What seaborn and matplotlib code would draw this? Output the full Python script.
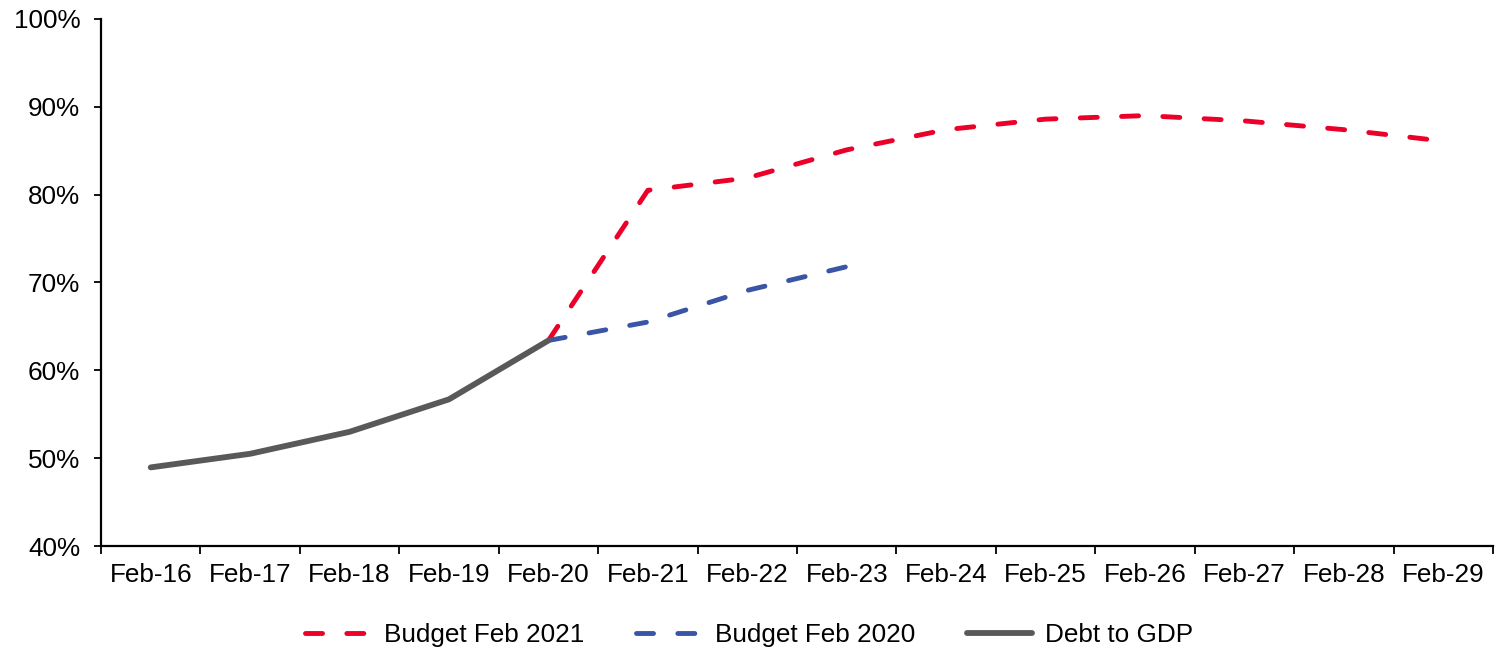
import numpy as np
import pandas as pd
import matplotlib
matplotlib.use("Agg")
import matplotlib.pyplot as plt
from matplotlib.ticker import FuncFormatter, FixedLocator
import seaborn as sns

# Fiscal years on the horizontal axis
periods = ["Feb-16", "Feb-17", "Feb-18", "Feb-19", "Feb-20", "Feb-21", "Feb-22",
           "Feb-23", "Feb-24", "Feb-25", "Feb-26", "Feb-27", "Feb-28", "Feb-29"]

# Gross debt as a share of GDP (%)
debt_periods = ["Feb-16", "Feb-17", "Feb-18", "Feb-19", "Feb-20"]
debt_values = [48.95, 50.5, 53.0, 56.7, 63.4]

budget2020_periods = ["Feb-20", "Feb-21", "Feb-22", "Feb-23"]
budget2020_values = [63.4, 65.5, 69.1, 71.8]

budget2021_periods = ["Feb-20", "Feb-21", "Feb-22", "Feb-23", "Feb-24", "Feb-25",
                      "Feb-26", "Feb-27", "Feb-28", "Feb-29"]
budget2021_values = [63.4, 80.5, 81.9, 85.1, 87.4, 88.6, 89.0, 88.4, 87.4, 86.1]

y_ticks = [40, 50, 60, 70, 80, 90, 100]

RED = "#EC0029"
BLUE = "#3A55A5"
GREY = "#595959"


def frame(name, labels, values):
    return pd.DataFrame({
        "series": name,
        "period": labels,
        "pos": [periods.index(p) for p in labels],
        "value": values,
    })


df21 = frame("Budget Feb 2021", budget2021_periods, budget2021_values)
df20 = frame("Budget Feb 2020", budget2020_periods, budget2020_values)
dfdebt = frame("Debt to GDP", debt_periods, debt_values)

sns.set_theme(style="white")
plt.rcParams["font.family"] = ["Liberation Sans", "DejaVu Sans"]
plt.rcParams["text.color"] = "black"

fig = plt.figure(figsize=(14.99, 6.51), dpi=100)
ax = fig.add_axes([101 / 1499, 1 - 546 / 651, (1493 - 101) / 1499, (546 - 19) / 651])

dash_lw = 3.5
dash_style = (0, (3.5, 5.0))

sns.lineplot(data=df21, x="pos", y="value", ax=ax, color=RED, linewidth=dash_lw,
             linestyle=dash_style, dash_capstyle="round", label="Budget Feb 2021",
             legend=False, sort=False)
sns.lineplot(data=df20, x="pos", y="value", ax=ax, color=BLUE, linewidth=dash_lw,
             linestyle=dash_style, dash_capstyle="round", label="Budget Feb 2020",
             legend=False, sort=False)
sns.lineplot(data=dfdebt, x="pos", y="value", ax=ax, color=GREY, linewidth=4.2,
             solid_capstyle="round", solid_joinstyle="round", label="Debt to GDP",
             legend=False, sort=False)

n = len(periods)
ax.set_xlim(-0.5, n - 0.5)
ax.set_ylim(40, 100)

# Category labels sit between tick marks placed on category boundaries
ax.xaxis.set_major_locator(FixedLocator(np.arange(-0.5, n, 1.0)))
ax.xaxis.set_minor_locator(FixedLocator(np.arange(n)))
ax.set_xticklabels([])
ax.set_xticklabels(periods, minor=True)
ax.tick_params(axis="x", which="major", direction="out", length=6, width=1.3,
               color="black", bottom=True)
ax.tick_params(axis="x", which="minor", length=0, pad=12, labelsize=18.8,
               labelcolor="black")

ax.yaxis.set_major_locator(FixedLocator(y_ticks))
ax.yaxis.set_major_formatter(FuncFormatter(lambda v, _: f"{v:.0f}%"))
ax.tick_params(axis="y", direction="out", length=5, width=1.3, color="black",
               left=True, pad=10, labelsize=18.8, labelcolor="black")

ax.set_xlabel("")
ax.set_ylabel("")
ax.grid(False)
for side in ("top", "right"):
    ax.spines[side].set_visible(False)
for side in ("left", "bottom"):
    ax.spines[side].set_color("black")
    ax.spines[side].set_linewidth(1.6)

handles, labels = ax.get_legend_handles_labels()
leg = fig.legend(handles, labels, loc="center", bbox_to_anchor=(0.5, 1 - 635 / 651),
                 ncol=3, frameon=False, fontsize=18.8, handlelength=2.5,
                 handletextpad=0.5, columnspacing=2.0)
for txt in leg.get_texts():
    txt.set_color("black")

fig.savefig("out.png", dpi=100, facecolor="white")
